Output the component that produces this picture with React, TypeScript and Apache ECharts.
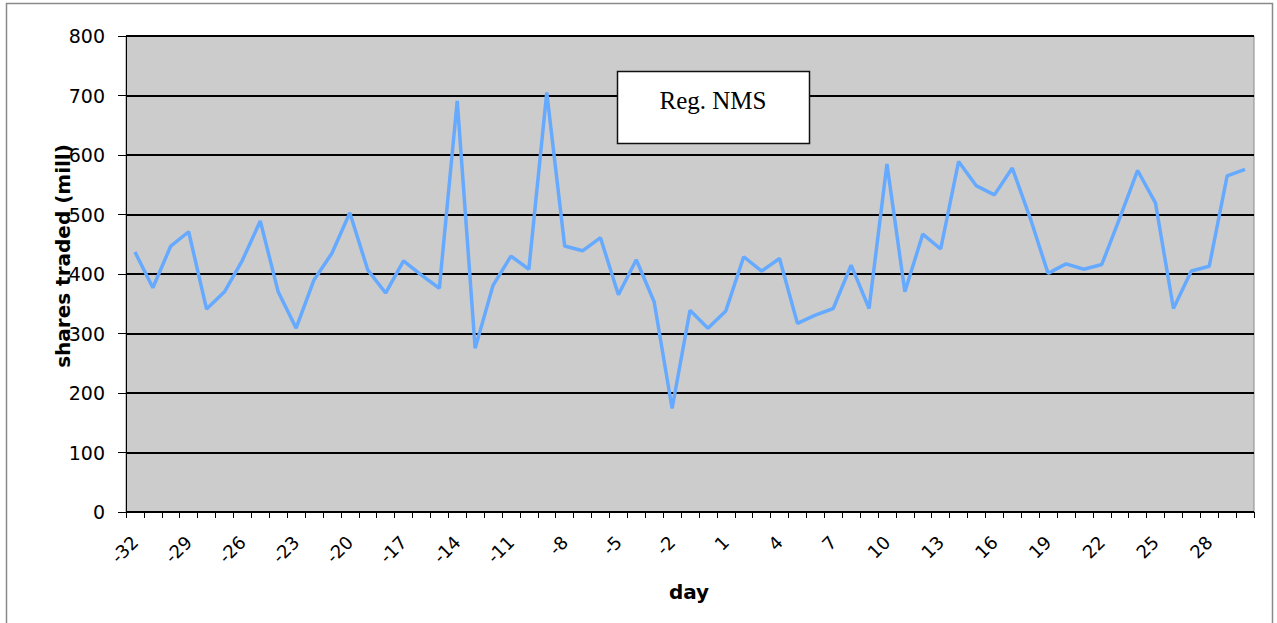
import React, { useEffect, useRef } from "react";
import * as echarts from "echarts";

const days: string[] = [];
for (let d = -32; d <= 30; d++) days.push(String(d));

const sharesTraded: number[] = [
  437, 377, 447, 471, 341, 370, 423, 489, 370, 309,
  390, 435, 503, 407, 368, 422, 398, 376, 691, 275,
  381, 430, 408, 705, 447, 439, 461, 365, 424, 353,
  174, 339, 309, 338, 429, 405, 426, 317, 331, 342,
  415, 342, 585, 370, 467, 442, 589, 548, 533, 578,
  494, 401, 417, 408, 416, 494, 574, 519, 342, 405,
  413, 565, 576,
];

const yTitle = "shares traded (mill)";
const xTitle = "day";
const boxLabel = "Reg. NMS";

export default function App() {
  const ref = useRef<HTMLDivElement>(null);

  useEffect(() => {
    if (!ref.current) return;
    const chart = echarts.init(ref.current, null, { renderer: "svg" });
    chart.setOption({
      animation: false,
      backgroundColor: "#ffffff",
      grid: {
        left: 126,
        top: 36,
        right: 23,
        bottom: 111,
        show: true,
        backgroundColor: "#cccccc",
        borderColor: "#8a8a8a",
        borderWidth: 1,
      },
      xAxis: {
        type: "category",
        data: days,
        boundaryGap: true,
        axisLine: { show: true, lineStyle: { color: "#000", width: 1 } },
        axisTick: { show: true, interval: 0, length: 6, lineStyle: { color: "#000", width: 1 } },
        axisLabel: {
          interval: 2,
          rotate: 45,
          margin: 27,
          color: "#000",
          fontFamily: "DejaVu Sans",
          fontSize: 18,
        },
        splitLine: { show: false },
      },
      yAxis: {
        type: "value",
        min: 0,
        max: 800,
        interval: 100,
        axisLine: { show: true, lineStyle: { color: "#000", width: 1 } },
        axisTick: { show: true, length: 8, lineStyle: { color: "#000", width: 1 } },
        axisLabel: {
          margin: 21,
          color: "#000",
          fontFamily: "DejaVu Sans",
          fontSize: 19,
        },
        splitLine: { show: true, lineStyle: { color: "#000", width: 2 } },
      },
      series: [
        {
          type: "line",
          data: sharesTraded,
          symbol: "none",
          lineStyle: { color: "#66aaff", width: 3.5 },
          z: 5,
        },
      ],
      graphic: [
        {
          type: "rect",
          shape: { x: 6.5, y: 3.5, width: 1266, height: 700 },
          style: { fill: "none", stroke: "#8a8a8a", lineWidth: 1.5 },
          z: 100,
          silent: true,
        },
        {
          type: "rect",
          shape: { x: 617.5, y: 71.5, width: 192, height: 72 },
          style: { fill: "#ffffff", stroke: "#111", lineWidth: 1.5 },
          z: 100,
        },
        {
          type: "text",
          x: 713,
          y: 100,
          style: {
            text: boxLabel,
            fill: "#000",
            font: "25px 'Liberation Serif'",
            align: "center",
            verticalAlign: "middle",
          },
          z: 101,
        },
        {
          type: "text",
          x: 63,
          y: 256,
          rotation: Math.PI / 2,
          style: {
            text: yTitle,
            fill: "#000",
            font: "bold 20px 'DejaVu Sans'",
            align: "center",
            verticalAlign: "middle",
          },
          z: 101,
        },
        {
          type: "text",
          x: 689,
          y: 592,
          style: {
            text: xTitle,
            fill: "#000",
            font: "bold 20px 'DejaVu Sans'",
            align: "center",
            verticalAlign: "middle",
          },
          z: 101,
        },
      ],
    });
    return () => chart.dispose();
  }, []);

  return (
    <div
      ref={ref}
      style={{ position: "fixed", left: 0, top: 0, width: 1277, height: 623 }}
    />
  );
}
